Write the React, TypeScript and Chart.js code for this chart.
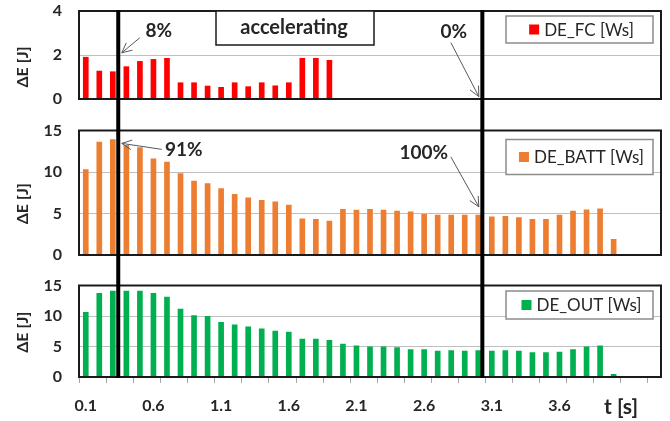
import React, { useEffect, useRef } from 'react';
import { Chart, registerables } from 'chart.js';

Chart.register(...registerables);

// Sample times (s), one bar slot per 0.1 s
const TIME_LABELS = [
  '0.1', '0.2', '0.3', '0.4', '0.5', '0.6', '0.7', '0.8', '0.9', '1.0',
  '1.1', '1.2', '1.3', '1.4', '1.5', '1.6', '1.7', '1.8', '1.9', '2.0',
  '2.1', '2.2', '2.3', '2.4', '2.5', '2.6', '2.7', '2.8', '2.9', '3.0',
  '3.1', '3.2', '3.3', '3.4', '3.5', '3.6', '3.7', '3.8', '3.9', '4.0',
  '4.1', '4.2', '4.3',
];
const X_TICK_LABELS = ['0.1', '0.6', '1.1', '1.6', '2.1', '2.6', '3.1', '3.6'];

// Energy increments per step (J)
const DE_FC = [
  1.9, 1.27, 1.24, 1.47, 1.71, 1.8, 1.85, 0.74, 0.74, 0.59,
  0.53, 0.74, 0.56, 0.74, 0.6, 0.74, 1.85, 1.85, 1.76,
];
const DE_BATT = [
  10.3, 13.6, 13.9, 13.2, 12.95, 11.6, 11.2, 9.8, 8.9, 8.6,
  8.0, 7.3, 6.9, 6.6, 6.4, 6.0, 4.35, 4.3, 4.1, 5.5,
  5.4, 5.5, 5.4, 5.3, 5.2, 4.9, 4.8, 4.8, 4.8, 4.8,
  4.6, 4.65, 4.5, 4.3, 4.3, 4.8, 5.3, 5.45, 5.55, 1.9,
];
const DE_OUT = [
  10.6, 13.7, 14.1, 14.1, 14.1, 13.7, 13.1, 11.15, 10.05, 9.95,
  8.96, 8.57, 8.24, 7.9, 7.53, 7.36, 6.2, 6.2, 6.0, 5.39,
  5.1, 4.94, 4.94, 4.84, 4.5, 4.5, 4.23, 4.34, 4.23, 4.34,
  4.23, 4.34, 4.23, 4.0, 4.0, 4.07, 4.5, 4.94, 5.1, 0.45,
];

const FC_Y_TICKS = [0, 2, 4];
const E_Y_TICKS = [0, 5, 10, 15];

// Time instants marked by the vertical lines (s)
const MARKER_TIMES = [0.34, 3.03];

const FONT = 'Lato, "Open Sans", sans-serif';
const INK = '#262626';

type Arrow = {
  t: number; v: number; side: number;
  dx: number; dy: number; text: string; tx: number; ty: number;
};

type Panel = {
  top: number; height: number; padTop: number; padBottom: number;
  ticks: number[]; color: string; legend: string; data: number[];
  legendTop: number; legendH: number; titleShift: number;
  lineFromArea: boolean; lineToArea: boolean; xAxis: boolean;
  arrows: Arrow[]; box?: string;
};

const PANELS: Panel[] = [
  {
    top: 0, height: 112, padTop: 11, padBottom: 13,
    ticks: FC_Y_TICKS, color: '#FF0000', legend: 'DE_FC [Ws]', data: DE_FC,
    legendTop: 5, legendH: 27, titleShift: 12,
    lineFromArea: true, lineToArea: false, xAxis: false,
    arrows: [
      { t: MARKER_TIMES[0], v: 2.1, side: 1, dx: 18, dy: -15, text: '8%', tx: 37, ty: -22 },
      { t: MARKER_TIMES[1], v: 0.11, side: -1, dx: -28, dy: -54, text: '0%', tx: -25, ty: -65 },
    ],
    box: 'accelerating',
  },
  {
    top: 112, height: 156, padTop: 18.5, padBottom: 13,
    ticks: E_Y_TICKS, color: '#ED7D31', legend: 'DE_BATT [Ws]', data: DE_BATT,
    legendTop: 9, legendH: 35, titleShift: 11,
    lineFromArea: false, lineToArea: false, xAxis: false,
    arrows: [
      { t: MARKER_TIMES[0], v: 13.45, side: 1, dx: 40, dy: 6, text: '91%', tx: 62, ty: 7 },
      { t: MARKER_TIMES[1], v: 5.8, side: -1, dx: -28, dy: -50, text: '100%', tx: -55, ty: -54 },
    ],
  },
  {
    top: 268, height: 153, padTop: 17.5, padBottom: 0,
    ticks: E_Y_TICKS, color: '#00B050', legend: 'DE_OUT [Ws]', data: DE_OUT,
    legendTop: 5.5, legendH: 28, titleShift: 1,
    lineFromArea: false, lineToArea: true, xAxis: true,
    arrows: [],
  },
];

const timeToIndex = (t: number) => (t - parseFloat(TIME_LABELS[0])) / 0.1;

function drawArrow(ctx: CanvasRenderingContext2D, x0: number, y0: number, x1: number, y1: number) {
  ctx.save();
  ctx.strokeStyle = '#595959';
  ctx.lineWidth = 1;
  ctx.beginPath();
  ctx.moveTo(x0, y0);
  ctx.lineTo(x1, y1);
  const ang = Math.atan2(y1 - y0, x1 - x0);
  const len = 11;
  const spread = 0.45;
  ctx.moveTo(x1 - len * Math.cos(ang - spread), y1 - len * Math.sin(ang - spread));
  ctx.lineTo(x1, y1);
  ctx.lineTo(x1 - len * Math.cos(ang + spread), y1 - len * Math.sin(ang + spread));
  ctx.stroke();
  ctx.restore();
}

const panelDecor = {
  id: 'panelDecor',
  afterDatasetsDraw(chart: any, _args: any, opts: any) {
    const p: Panel = opts.panel;
    const { ctx, chartArea: a, scales } = chart;
    const xs = scales.x;
    const ys = scales.y;
    ctx.save();

    // plot frame
    ctx.strokeStyle = '#1a1a1a';
    ctx.lineWidth = 2;
    ctx.strokeRect(a.left, a.top, a.right - a.left, a.bottom - a.top);

    // x tick marks every second slot boundary
    if (p.xAxis) {
      ctx.strokeStyle = '#a6a6a6';
      ctx.lineWidth = 1;
      ctx.beginPath();
      for (let k = 0; k <= TIME_LABELS.length; k += 2) {
        const px = Math.round(xs.getPixelForValue(k - 0.5)) + 0.5;
        ctx.moveTo(px, a.bottom + 1);
        ctx.lineTo(px, a.bottom + 6);
      }
      ctx.stroke();
      ctx.fillStyle = INK;
      ctx.font = `bold 21px ${FONT}`;
      ctx.textAlign = 'center';
      ctx.textBaseline = 'middle';
      ctx.fillText('t [s]', a.right - 40, a.bottom + 30);
    }

    // vertical marker lines
    ctx.fillStyle = '#000';
    const y0 = p.lineFromArea ? a.top - 1 : 0;
    const y1 = p.lineToArea ? a.bottom + 1 : chart.height;
    MARKER_TIMES.forEach((t) => {
      const px = xs.getPixelForValue(timeToIndex(t));
      ctx.fillRect(px - 2, y0, 4, y1 - y0);
    });

    // annotation box
    if (p.box) {
      const bx = a.left + 137;
      const bw = 158;
      const bh = 34;
      ctx.fillStyle = '#fff';
      ctx.fillRect(bx, a.top, bw, bh);
      ctx.strokeStyle = '#1a1a1a';
      ctx.lineWidth = 1.5;
      ctx.strokeRect(bx, a.top, bw, bh);
      ctx.fillStyle = INK;
      ctx.font = `bold 20px ${FONT}`;
      ctx.textAlign = 'center';
      ctx.textBaseline = 'middle';
      ctx.fillText(p.box, bx + bw / 2 - 1, a.top + bh / 2);
    }

    // arrows with percentage labels
    p.arrows.forEach((ar) => {
      const tipX = xs.getPixelForValue(timeToIndex(ar.t)) + ar.side * 3.5;
      const tipY = ys.getPixelForValue(ar.v);
      drawArrow(ctx, tipX + ar.dx, tipY + ar.dy, tipX, tipY);
      ctx.fillStyle = INK;
      ctx.font = `bold 19px ${FONT}`;
      ctx.textAlign = 'center';
      ctx.textBaseline = 'middle';
      ctx.fillText(ar.text, tipX + ar.tx, tipY + ar.ty);
    });

    // legend box inside the plot
    const lw = 147;
    const lx = a.right - 155;
    const ly = a.top + p.legendTop;
    ctx.fillStyle = '#fff';
    ctx.fillRect(lx, ly, lw, p.legendH);
    ctx.strokeStyle = '#8c8c8c';
    ctx.lineWidth = 1.5;
    ctx.strokeRect(lx, ly, lw, p.legendH);
    ctx.font = `17px ${FONT}`;
    const tw = ctx.measureText(p.legend).width;
    const total = 10 + 5 + tw;
    const sx = lx + lw / 2 + 2 - total / 2;
    const cy = ly + p.legendH / 2;
    ctx.fillStyle = p.color;
    ctx.fillRect(sx, cy - 5, 10, 10);
    ctx.fillStyle = INK;
    ctx.textAlign = 'left';
    ctx.textBaseline = 'middle';
    ctx.fillText(p.legend, sx + 15, cy + 1);

    // y-axis title
    ctx.save();
    ctx.translate(23, (a.top + a.bottom) / 2 + p.titleShift);
    ctx.rotate(-Math.PI / 2);
    ctx.font = `bold 16px ${FONT}`;
    ctx.textAlign = 'center';
    ctx.textBaseline = 'middle';
    ctx.fillStyle = INK;
    ctx.fillText('\u0394E [J]', 0, 0);
    ctx.restore();

    ctx.restore();
  },
};

function PanelChart({ panel }: { panel: Panel }) {
  const ref = useRef<HTMLCanvasElement>(null);
  useEffect(() => {
    if (!ref.current) return;
    const ticks = panel.ticks;
    const chart = new Chart(ref.current, {
      type: 'bar',
      data: {
        labels: TIME_LABELS,
        datasets: [{
          label: panel.legend,
          data: panel.data,
          backgroundColor: panel.color,
          borderWidth: 0,
          barThickness: 5,
        }],
      },
      options: {
        responsive: false,
        animation: false,
        events: [],
        layout: { padding: { left: 0, right: 9, top: panel.padTop, bottom: panel.padBottom } },
        plugins: {
          legend: { display: false },
          tooltip: { enabled: false },
          panelDecor: { panel },
        } as any,
        scales: {
          x: {
            display: panel.xAxis,
            grid: { display: false },
            border: { display: false },
            ticks: {
              autoSkip: false,
              maxRotation: 0,
              minRotation: 0,
              padding: 11,
              color: INK,
              font: { family: FONT, size: 16, weight: 'bold' },
              callback: (_v: any, i: number) =>
                X_TICK_LABELS.includes(TIME_LABELS[i]) ? TIME_LABELS[i] : '',
            },
            afterFit: (s: any) => { s.height = panel.xAxis ? 44 : 0; },
          },
          y: {
            min: ticks[0],
            max: ticks[ticks.length - 1],
            afterBuildTicks: (s: any) => { s.ticks = ticks.map((v) => ({ value: v })); },
            grid: {
              color: '#bfbfbf',
              lineWidth: 1,
              drawTicks: true,
              tickLength: 17,
              tickColor: 'rgba(0,0,0,0)',
            },
            border: { display: false },
            ticks: {
              padding: 0,
              color: INK,
              font: { family: FONT, size: 16, weight: 'bold' },
            },
            afterFit: (s: any) => { s.width = 79; },
          },
        },
      },
      plugins: [panelDecor],
    });
    return () => chart.destroy();
  }, [panel]);

  return (
    <div style={{ position: 'absolute', left: 0, top: panel.top, width: 670, height: panel.height }}>
      <canvas ref={ref} width={670} height={panel.height} style={{ display: 'block' }} />
    </div>
  );
}

export default function App() {
  return (
    <div style={{ position: 'absolute', left: 0, top: 0, width: 670, height: 421, background: '#fff', overflow: 'hidden' }}>
      {PANELS.map((p, i) => <PanelChart key={i} panel={p} />)}
    </div>
  );
}
